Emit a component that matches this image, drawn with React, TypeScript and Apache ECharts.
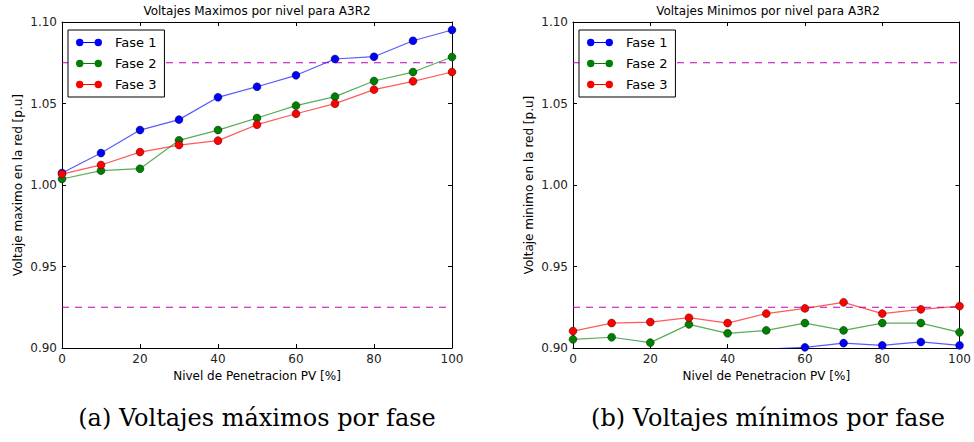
import React, { useEffect, useRef } from "react";
import * as echarts from "echarts";

const penetration = [0, 10, 20, 30, 40, 50, 60, 70, 80, 90, 100];
const seriesNames = ["Fase 1", "Fase 2", "Fase 3"];
const maxFase1 = [1.0074, 1.0196, 1.0337, 1.0401, 1.0538, 1.0603, 1.0673, 1.0773, 1.0787, 1.0885, 1.0951];
const maxFase2 = [1.0037, 1.0088, 1.01, 1.0274, 1.0337, 1.0411, 1.0487, 1.0542, 1.0638, 1.0693, 1.0785];
const maxFase3 = [1.0067, 1.0123, 1.0202, 1.0245, 1.0272, 1.037, 1.0437, 1.0499, 1.0585, 1.0636, 1.0693];
const minFase1 = [0.892, 0.893, 0.891, 0.894, 0.895, 0.8993, 0.9004, 0.903, 0.9016, 0.9037, 0.9016];
const minFase2 = [0.9053, 0.9066, 0.9033, 0.9145, 0.909, 0.9108, 0.9153, 0.9108, 0.9153, 0.9153, 0.9096];
const minFase3 = [0.9104, 0.9153, 0.9159, 0.9186, 0.9153, 0.9211, 0.9243, 0.928, 0.9211, 0.9237, 0.9257];
const limitX = [0, 100];
const upperLimit = 1.075;
const lowerLimit = 0.925;
const titles = ["Voltajes Maximos por nivel para A3R2", "Voltajes Minimos por nivel para A3R2"];
const yNames = ["Voltaje maximo en la red [p.u]", "Voltaje minimo en la red [p.u]"];
const xName = "Nivel de Penetracion PV [%]";
const captions = ["(a) Voltajes máximos por fase", "(b) Voltajes mínimos por fase"];

const colors = ["#0000ff", "#008000", "#ff0000"];
const FONT = "DejaVu Sans";
const legendIcon =
  "path://M0,4 A4,4 0 1,1 8,4 A4,4 0 1,1 0,4 Z M8,3.5 L20,3.5 L20,4.5 L8,4.5 Z M20,4 A4,4 0 1,1 28,4 A4,4 0 1,1 20,4 Z";

const grids = [
  { left: 62, top: 22, width: 390, height: 326 },
  { left: 573, top: 22, width: 390, height: 326 },
];

export default function App() {
  const ref = useRef<HTMLDivElement>(null);
  useEffect(() => {
    if (!ref.current) return;
    const chart = echarts.init(ref.current, null, { renderer: "svg" });
    const xAxes: any[] = [];
    const yAxes: any[] = [];
    grids.forEach((_, gi) => {
      xAxes.push({
        type: "value",
        gridIndex: gi,
        min: 0,
        max: 100,
        interval: 20,
        name: xName,
        nameLocation: "middle",
        nameGap: 22,
        nameTextStyle: { fontSize: 12, color: "#000", fontFamily: FONT },
        axisLine: { show: true, onZero: false, lineStyle: { color: "#000", width: 1 } },
        axisTick: { show: true, inside: true, length: 4, lineStyle: { color: "#000" } },
        axisLabel: { show: true, margin: 5, fontSize: 12, color: "#222", fontFamily: FONT },
        splitLine: { show: false },
      });
      xAxes.push({
        type: "value",
        gridIndex: gi,
        position: "top",
        min: 0,
        max: 100,
        interval: 20,
        axisLine: { show: true, onZero: false, lineStyle: { color: "#000", width: 1 } },
        axisTick: { show: true, inside: true, length: 4, lineStyle: { color: "#000" } },
        axisLabel: { show: false },
        splitLine: { show: false },
      });
      yAxes.push({
        type: "value",
        gridIndex: gi,
        min: 0.9,
        max: 1.1,
        interval: 0.05,
        name: yNames[gi],
        nameLocation: "middle",
        nameGap: 38,
        nameRotate: 90,
        nameTextStyle: { fontSize: 12, color: "#000", fontFamily: FONT },
        axisLine: { show: true, onZero: false, lineStyle: { color: "#000", width: 1 } },
        axisTick: { show: true, inside: true, length: 4, lineStyle: { color: "#000" } },
        axisLabel: {
          show: true,
          margin: 5,
          fontSize: 12,
          color: "#222",
          fontFamily: FONT,
          formatter: (v: number) => v.toFixed(2),
        },
        splitLine: { show: false },
      });
      yAxes.push({
        type: "value",
        gridIndex: gi,
        position: "right",
        min: 0.9,
        max: 1.1,
        interval: 0.05,
        axisLine: { show: true, onZero: false, lineStyle: { color: "#000", width: 1 } },
        axisTick: { show: true, inside: true, length: 4, lineStyle: { color: "#000" } },
        axisLabel: { show: false },
        splitLine: { show: false },
      });
    });

    const dataSets = [
      [maxFase1, maxFase2, maxFase3],
      [minFase1, minFase2, minFase3],
    ];
    const series: any[] = [];
    dataSets.forEach((sets, gi) => {
      [upperLimit, lowerLimit].forEach((lim, li) => {
        series.push({
          type: "line",
          name: "Límite " + gi + "-" + li,
          xAxisIndex: gi * 2,
          yAxisIndex: gi * 2,
          data: limitX.map((x) => [x, lim]),
          symbol: "none",
          silent: true,
          color: "#bf00bf",
          lineStyle: { color: "#bf00bf", width: 1, type: [7, 6] },
          z: 2,
        });
      });
      sets.forEach((vals, si) => {
        series.push({
          type: "line",
          name: seriesNames[si],
          xAxisIndex: gi * 2,
          yAxisIndex: gi * 2,
          data: penetration.map((x, i) => [x, vals[i]]),
          clip: true,
          symbol: "circle",
          symbolSize: 8,
          color: colors[si],
          itemStyle: { color: colors[si], borderColor: "rgba(0,0,0,0.6)", borderWidth: 0.6 },
          lineStyle: { color: colors[si], width: 1.2, opacity: 0.65 },
          z: 3,
        });
      });
    });

    const legends = grids.map((g) => ({
      data: seriesNames,
      orient: "vertical",
      left: g.left + 6,
      top: 30,
      padding: [6, 8, 6, 8],
      itemGap: 8,
      itemWidth: 26,
      itemHeight: 8,
      icon: legendIcon,
      itemStyle: { borderWidth: 0 },
      borderColor: "#000",
      borderWidth: 1,
      borderRadius: 0,
      backgroundColor: "#fff",
      selectedMode: false,
      textStyle: { fontSize: 13, color: "#000", fontFamily: FONT, padding: [0, 0, 0, 8] },
    }));

    const graphic: any[] = [];
    grids.forEach((g, gi) => {
      graphic.push({
        type: "text",
        x: g.left + g.width / 2,
        y: 5,
        style: {
          text: titles[gi],
          font: `12px '${FONT}'`,
          fill: "#000",
          textAlign: "center",
          textVerticalAlign: "top",
        },
      });
      graphic.push({
        type: "text",
        x: g.left + g.width / 2,
        y: 418,
        style: {
          text: captions[gi],
          font: "24px 'DejaVu Serif'",
          fill: "#000",
          textAlign: "center",
          textVerticalAlign: "middle",
        },
      });
    });

    chart.setOption({
      animation: false,
      backgroundColor: "#fff",
      textStyle: { fontFamily: FONT },
      grid: grids.map((g) => ({ ...g, containLabel: false })),
      xAxis: xAxes,
      yAxis: yAxes,
      legend: legends,
      series,
      graphic,
    });
    return () => chart.dispose();
  }, []);
  return (
    <div
      ref={ref}
      style={{ position: "absolute", left: 0, top: 0, width: 974, height: 442, background: "#fff" }}
    />
  );
}
